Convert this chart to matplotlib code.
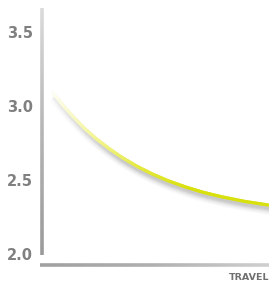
import numpy as np
import matplotlib
matplotlib.use("Agg")
import matplotlib.pyplot as plt
from matplotlib.collections import LineCollection
from matplotlib import transforms as mtrans
from matplotlib.colors import LinearSegmentedColormap, to_rgb

# data
travel = [0.48, 0.93, 1.37, 1.89, 2.42, 3.00, 3.57, 4.19, 4.85, 5.55, 6.30, 7.09, 7.93, 8.94, 10.0]
score = [3.095, 3.010, 2.935, 2.853, 2.782, 2.714, 2.655, 2.599, 2.548, 2.502, 2.461, 2.424, 2.393, 2.362, 2.337]
yticks = [2.0, 2.5, 3.0, 3.5]
ytick_labels = ["2.0", "2.5", "3.0", "3.5"]
xlabel = "TRAVEL"

W, H = 269, 288
fig = plt.figure(figsize=(W / 100, H / 100), dpi=100)
ax = fig.add_axes([42 / W, 33 / H, 227 / W, 247 / H])
ax.set_xlim(0, 10)
ax.set_ylim(2.0, 2.0 + 247 / 148)
for s in ax.spines.values():
    s.set_visible(False)
ax.set_xticks([])
ax.set_yticks([])

x = np.array(travel)
y = np.array(score)

# split the polyline into short straight pieces so colour can vary along it
pts, cvals = [], []
for i in range(len(x) - 1):
    for t in np.linspace(0, 1, 11)[:-1]:
        t2 = t + 0.1
        x0 = x[i] + (x[i + 1] - x[i]) * t
        y0 = y[i] + (y[i + 1] - y[i]) * t
        x1 = x[i] + (x[i + 1] - x[i]) * t2
        y1 = y[i] + (y[i + 1] - y[i]) * t2
        pts.append([(x0, y0), (x1, y1)])
        cvals.append((x0 + x1) / 2)
cvals = np.array(cvals)
fade = np.clip((cvals - x[0]) / 3.0, 0, 1)

# soft shadow
grey = np.array(to_rgb('#5a5a5a'))
for dy, lw, a in [(-5, 7, 0.04), (-4.5, 5.5, 0.06), (-4, 4, 0.08), (-3.5, 3, 0.10), (-3, 2, 0.08)]:
    tr = mtrans.offset_copy(ax.transData, fig=fig, x=0.8, y=dy, units='dots')
    cols = np.column_stack([np.tile(grey, (len(cvals), 1)), a * (0.3 + 0.7 * fade)])
    slc = LineCollection(pts, colors=cols, linewidths=lw, capstyle='butt', transform=tr, zorder=2)
    ax.add_collection(slc)

cmap = LinearSegmentedColormap.from_list('g', ['#fdfdf2', '#f2f48e', '#e3e83a', '#d8e00e'])
lc = LineCollection(pts, cmap=cmap, norm=plt.Normalize(0.48, 6.5), linewidths=2.3,
                    capstyle='round', zorder=3)
lc.set_array(cvals)
ax.add_collection(lc)

# y axis line with gradient (bottom dark, top light)
n = 60
yy = np.linspace(0, 1, n + 1)
segs = [[(0, yy[i]), (0, yy[i + 1])] for i in range(n)]
ycm = LinearSegmentedColormap.from_list('ya', ['#9a9a9a', '#b5b5b5', '#dadada'])
ylc = LineCollection(segs, cmap=ycm, linewidths=2.6, transform=ax.transAxes, clip_on=False, zorder=4)
ylc.set_array((yy[:-1] + yy[1:]) / 2)
ax.add_collection(ylc)

# x axis line with gradient (left dark, right light)
xa0, xa1 = -2 / 227, 1.0
xy_ax = -10 / 247
xx = np.linspace(xa0, xa1, n + 1)
segs = [[(xx[i], xy_ax), (xx[i + 1], xy_ax)] for i in range(n)]
xcm = LinearSegmentedColormap.from_list('xa', ['#a0a0a0', '#b0b0b0', '#cfcfcf'])
xlc = LineCollection(segs, cmap=xcm, linewidths=2.6, transform=ax.transAxes, clip_on=False, zorder=4)
xlc.set_array((xx[:-1] + xx[1:]) / 2)
ax.add_collection(xlc)

# tick labels
for v, lab in zip(yticks, ytick_labels):
    ax.text(-9 / 227, v, lab, transform=ax.get_yaxis_transform(), ha='right', va='center',
            fontsize=10.5, fontfamily='DejaVu Sans', fontweight='bold', color='#808080', clip_on=False)

ax.text(1.0, -23 / 247, xlabel, transform=ax.transAxes, ha='right', va='center',
        fontsize=6.8, fontfamily='DejaVu Sans', fontweight='bold', color='#707070', clip_on=False)

fig.savefig('out.png', dpi=100)
